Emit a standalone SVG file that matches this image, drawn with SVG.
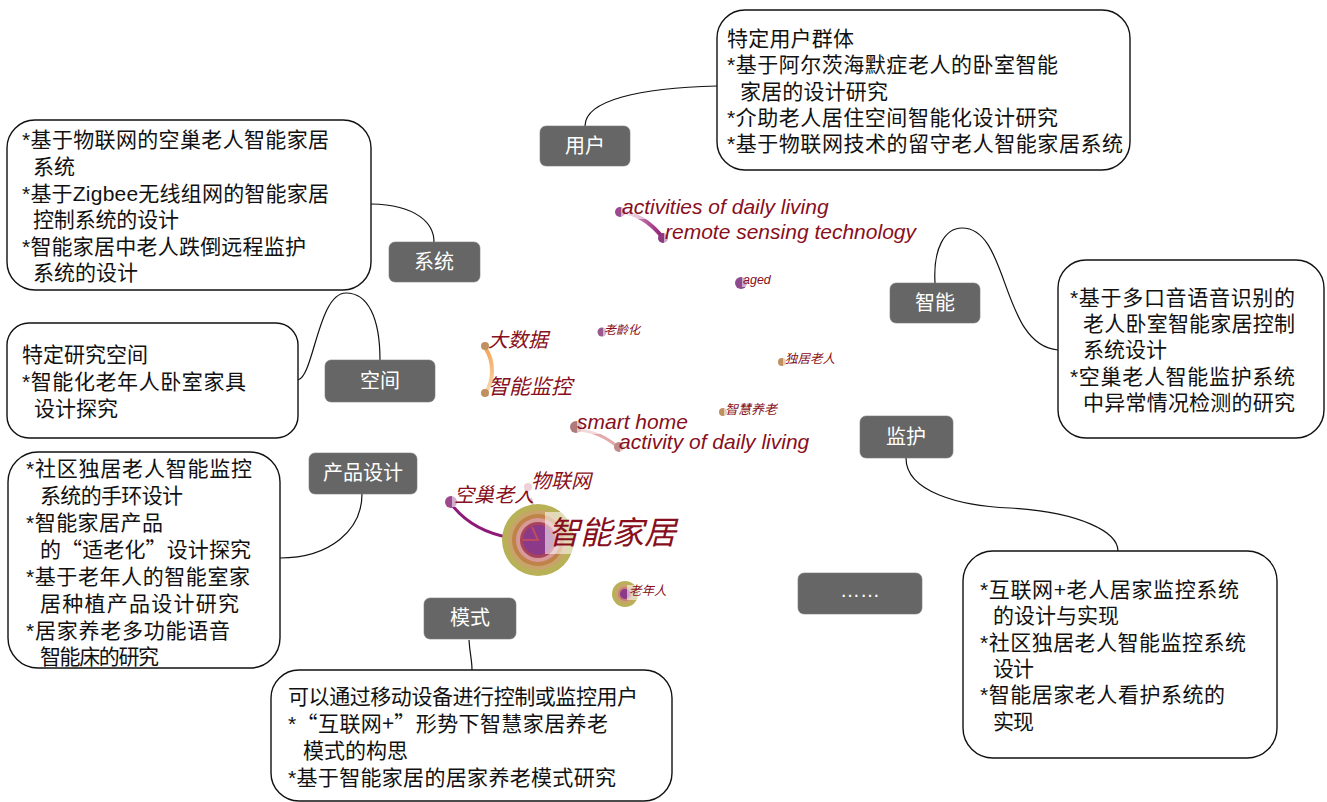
<svg xmlns="http://www.w3.org/2000/svg" width="1327" height="802" viewBox="0 0 1327 802">
<defs>
<style>
.gb{fill:#666666;stroke:#7a7a7a;stroke-width:0.6}
.gt{font-family:"Liberation Sans","Noto Sans CJK SC",sans-serif;font-size:20px;fill:#ffffff;text-anchor:middle}
.wb{fill:#ffffff;stroke:#111111;stroke-width:1.4}
.bt{font-family:"Liberation Sans","Noto Sans CJK SC",sans-serif;font-size:21px;fill:#111111}
.bq{font-family:"Noto Sans CJK SC",sans-serif;font-size:21px;fill:#111111}
.cn{fill:none;stroke:#111111;stroke-width:1.2}
.kw{font-family:"Liberation Sans","Noto Sans CJK SC",sans-serif;font-style:italic;fill:#880f20}
.lb{fill:#ffffff;opacity:0.55}
</style>
<linearGradient id="g1" x1="0" y1="0" x2="1" y2="0"><stop offset="0" stop-color="#efc8e0"/><stop offset="1" stop-color="#8e1a72"/></linearGradient>
<linearGradient id="g2" x1="0" y1="0" x2="0" y2="1"><stop offset="0" stop-color="#f4a558"/><stop offset="1" stop-color="#f7d8b0"/></linearGradient>
</defs>
<rect width="1327" height="802" fill="#ffffff"/>

<g id="connectors">
<path class="cn" d="M585,126 C585,100 640,88 717,86"/>
<path class="cn" d="M371,204 C418,205 434,224 434,242"/>
<path class="cn" d="M380,360 C380,318 368,293 346,293 C318,293 314,376 298,380"/>
<path class="cn" d="M935,283 C933,248 945,228 962,228 C1010,228 1000,345 1058,350"/>
<path class="cn" d="M906,458 C906,492 960,506 1010,508 C1080,512 1118,532 1118,551"/>
<path class="cn" d="M362,494 C362,530 330,558 280,558"/>
<path class="cn" d="M469,640 C470,655 472,660 472,670"/>
</g>

<g id="cloud">
<path d="M620,212 C637,213 652,224 663,238" fill="none" stroke="url(#g1)" stroke-width="4"/>
<path d="M486,349 C494,362 494,380 486,392" fill="none" stroke="url(#g2)" stroke-width="4"/>
<path d="M577,430 C595,431 609,439 619,448" fill="none" stroke="#e3a8a8" stroke-width="3"/>
<path d="M452,505 C470,528 500,540 538,540" fill="none" stroke="#8e1a78" stroke-width="3"/>
<path d="M531,498 L541,534" fill="none" stroke="#c66a6a" stroke-width="2"/>

<g id="n-adl"><circle cx="620" cy="212" r="5" fill="#9b4a8e"/><rect class="lb" x="621" y="197" width="208" height="22"/><text class="kw" x="622" y="214" font-size="21">activities of daily living</text></g>
<g id="n-rst"><circle cx="663" cy="238" r="5" fill="#8e3a80"/><rect class="lb" x="664" y="222" width="252" height="22"/><text class="kw" x="665" y="239" font-size="21">remote sensing technology</text></g>
<g id="n-aged"><circle cx="741" cy="283" r="6" fill="#8e4a8e"/><rect class="lb" x="742" y="273" width="30" height="14"/><text class="kw" x="743" y="284" font-size="12.5">aged</text></g>
<g id="n-lhh"><circle cx="602" cy="332" r="4.5" fill="#9b5a8e"/><rect class="lb" x="603" y="323" width="38" height="14"/><text class="kw" x="604" y="334" font-size="12">老齡化</text></g>
<g id="n-dsj"><circle cx="485" cy="346" r="4" fill="#c09060"/><text class="kw" x="488" y="347" font-size="20">大数据</text></g>
<g id="n-znjk"><circle cx="485" cy="393" r="4" fill="#c09060"/><text class="kw" x="488" y="394" font-size="21">智能监控</text></g>
<g id="n-djlr"><circle cx="782" cy="362" r="4" fill="#c09060"/><rect class="lb" x="783" y="353" width="52" height="14"/><text class="kw" x="785" y="363" font-size="12.5">独居老人</text></g>
<g id="n-zhyl"><circle cx="723" cy="412" r="4" fill="#c09060"/><rect class="lb" x="724" y="403" width="54" height="14"/><text class="kw" x="725" y="414" font-size="13">智慧养老</text></g>
<g id="n-sh"><circle cx="576" cy="427" r="6" fill="#b07a7a"/><rect class="lb" x="577" y="412" width="112" height="22"/><text class="kw" x="577" y="429" font-size="21">smart home</text></g>
<g id="n-adl2"><circle cx="619" cy="447" r="5" fill="#c08a8a"/><rect class="lb" x="620" y="432" width="190" height="22"/><text class="kw" x="619" y="449" font-size="21">activity of daily living</text></g>
<g id="n-kclr"><circle cx="451" cy="502" r="6" fill="#9b4a8e"/><rect class="lb" x="452" y="485" width="84" height="22"/><text class="kw" x="454" y="502" font-size="20">空巢老人</text></g>
<g id="n-wlw"><circle cx="528" cy="487" r="4" fill="#f0d0d8"/><text class="kw" x="531" y="488" font-size="20">物联网</text></g>
<g id="n-znjj">
<circle cx="538" cy="540" r="36" fill="#b8b158"/>
<circle cx="538" cy="540" r="30" fill="#c8a46a"/>
<circle cx="538" cy="540" r="26" fill="#bf8248"/>
<circle cx="538" cy="540" r="22" fill="#d79a98"/>
<circle cx="538" cy="540" r="18" fill="#a8435c"/>
<circle cx="538" cy="540" r="15" fill="#8a3a88"/>
<path d="M523,540 L538,540 L532,527" fill="none" stroke="#c04a60" stroke-width="2"/>
<rect class="lb" x="545" y="512" width="135" height="42"/>
<text class="kw" x="548" y="544" font-size="32">智能家居</text>
</g>
<g id="n-lnr">
<circle cx="625" cy="594" r="13" fill="#b8b158"/>
<circle cx="625" cy="594" r="10" fill="#c8a46a"/>
<circle cx="625" cy="594" r="7" fill="#c77a7a"/>
<circle cx="625" cy="594" r="5" fill="#8a3a88"/>
<rect class="lb" x="627" y="585" width="40" height="15"/>
<text class="kw" x="629" y="595" font-size="12.5">老年人</text>
</g>
</g>

<g id="node-yonghu"><rect class="gb" x="540" y="126" width="90" height="40" rx="6"/><text class="gt" x="585" y="153">用户</text></g>
<g id="node-xitong"><rect class="gb" x="389" y="242" width="91" height="40" rx="6"/><text class="gt" x="434" y="269">系统</text></g>
<g id="node-kongjian"><rect class="gb" x="325" y="360" width="110" height="42" rx="6"/><text class="gt" x="380" y="388">空间</text></g>
<g id="node-zhineng"><rect class="gb" x="890" y="283" width="90" height="40" rx="6"/><text class="gt" x="935" y="310">智能</text></g>
<g id="node-jianhu"><rect class="gb" x="860" y="416" width="93" height="42" rx="6"/><text class="gt" x="906" y="444">监护</text></g>
<g id="node-chanpin"><rect class="gb" x="309" y="453" width="108" height="41" rx="6"/><text class="gt" x="363" y="480">产品设计</text></g>
<g id="node-moshi"><rect class="gb" x="424" y="598" width="92" height="41" rx="6"/><text class="gt" x="470" y="625">模式</text></g>
<g id="node-more"><rect class="gb" x="798" y="573" width="124" height="41" rx="6"/><text class="gt" x="860" y="597" font-size="14">……</text></g>

<g id="box-yonghu"><rect class="wb" x="717" y="10" width="413" height="160" rx="28"/>
<text class="bt" x="727" y="46" textLength="127">特定用户群体</text>
<text class="bt" x="727" y="72" textLength="331">*基于阿尔茨海默症老人的卧室智能</text>
<text class="bt" x="740" y="99" textLength="148">家居的设计研究</text>
<text class="bt" x="727" y="125" textLength="331">*介助老人居住空间智能化设计研究</text>
<text class="bt" x="727" y="151" textLength="396">*基于物联网技术的留守老人智能家居系统</text>
</g>
<g id="box-xitong"><rect class="wb" x="7" y="120" width="364" height="170" rx="28"/>
<text class="bt" x="22" y="147" textLength="307">*基于物联网的空巢老人智能家居</text>
<text class="bt" x="33" y="174" textLength="42">系统</text>
<text class="bt" x="22" y="201" textLength="307">*基于Zigbee无线组网的智能家居</text>
<text class="bt" x="33" y="227" textLength="146">控制系统的设计</text>
<text class="bt" x="22" y="254" textLength="284">*智能家居中老人跌倒远程监护</text>
<text class="bt" x="33" y="280" textLength="105">系统的设计</text>
</g>
<g id="box-kongjian"><rect class="wb" x="7" y="323" width="291" height="115" rx="22"/>
<text class="bt" x="22" y="362" textLength="126">特定研究空间</text>
<text class="bt" x="22" y="389" textLength="224">*智能化老年人卧室家具</text>
<text class="bt" x="34" y="416" textLength="84">设计探究</text>
</g>
<g id="box-zhineng"><rect class="wb" x="1058" y="260" width="266" height="178" rx="28"/>
<text class="bt" x="1070" y="305" textLength="225">*基于多口音语音识别的</text>
<text class="bt" x="1083" y="331" textLength="212">老人卧室智能家居控制</text>
<text class="bt" x="1083" y="357" textLength="84">系统设计</text>
<text class="bt" x="1070" y="384" textLength="225">*空巢老人智能监护系统</text>
<text class="bt" x="1083" y="410" textLength="212">中异常情况检测的研究</text>
</g>
<g id="box-jianhu"><rect class="wb" x="963" y="551" width="314" height="207" rx="30"/>
<text class="bt" x="980" y="597" textLength="259">*互联网+老人居家监控系统</text>
<text class="bt" x="993" y="623" textLength="126">的设计与实现</text>
<text class="bt" x="980" y="650" textLength="266">*社区独居老人智能监控系统</text>
<text class="bt" x="993" y="676" textLength="41">设计</text>
<text class="bt" x="980" y="702" textLength="245">*智能居家老人看护系统的</text>
<text class="bt" x="993" y="729" textLength="41">实现</text>
</g>
<g id="box-chanpin"><rect class="wb" x="8" y="452" width="272" height="216" rx="30"/>
<text class="bt" x="26" y="476" textLength="226">*社区独居老人智能监控</text>
<text class="bt" x="40" y="503" textLength="143">系统的手环设计</text>
<text class="bt" x="26" y="530" textLength="137">*智能家居产品</text>
<text class="bq" x="40" y="557" textLength="211">的“适老化”设计探究</text>
<text class="bt" x="26" y="584" textLength="224">*基于老年人的智能室家</text>
<text class="bt" x="40" y="611" textLength="199">居种植产品设计研究</text>
<text class="bt" x="26" y="638" textLength="204">*居家养老多功能语音</text>
<text class="bt" x="40" y="664" textLength="119">智能床的研究</text>
</g>
<g id="box-moshi"><rect class="wb" x="271" y="670" width="401" height="131" rx="28"/>
<text class="bt" x="288" y="704" textLength="350">可以通过移动设备进行控制或监控用户</text>
<text class="bt" x="288" y="731" textLength="320"><tspan>*</tspan><tspan font-family="Noto Sans CJK SC, sans-serif">“互联网+”</tspan>形势下智慧家居养老</text>
<text class="bt" x="303" y="758" textLength="105">模式的构思</text>
<text class="bt" x="288" y="785" textLength="328">*基于智能家居的居家养老模式研究</text>
</g>
</svg>
